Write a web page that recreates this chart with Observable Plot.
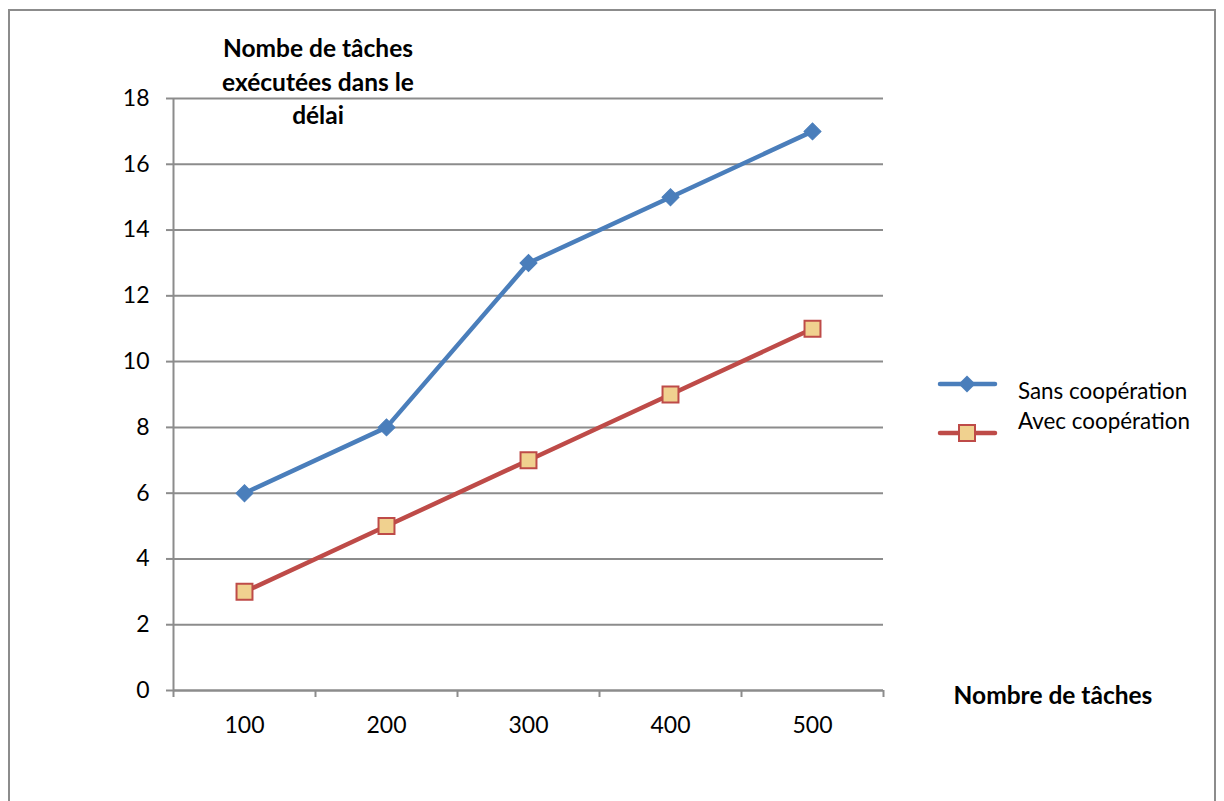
<!DOCTYPE html>
<html>
<head>
<meta charset="utf-8">
<script src="https://cdn.jsdelivr.net/npm/d3@7"></script>
<script src="https://cdn.jsdelivr.net/npm/@observablehq/plot@0.6"></script>
<style>
  html, body { margin: 0; padding: 0; background: #fff; }
  #wrap { position: relative; width: 1224px; height: 801px; overflow: hidden; font-family: Lato, "Open Sans", sans-serif; }
  #frame { position: absolute; left: 8px; top: 9px; width: 1208px; height: 820px; border: 2px solid #8c8c8c; box-sizing: border-box; }
  #chart { position: absolute; left: 0; top: 0; }
  .ytitle { position: absolute; left: 178px; top: 31px; width: 280px; text-align: center; font-weight: 700; font-size: 24.5px; line-height: 33.5px; color: #000; }
  .xtitle { position: absolute; left: 930px; top: 680px; width: 246px; text-align: center; font-weight: 700; font-size: 24.5px; color: #000; }
  #legend { position: absolute; left: 930px; top: 360px; }
</style>
</head>
<body>
<div id="wrap">
  <div id="frame"></div>
  <div id="chart"></div>
  <div class="ytitle">Nombe de tâches<br>exécutées dans le<br>délai</div>
  <div class="xtitle">Nombre de tâches</div>
  <svg id="legend" width="290" height="100"></svg>
</div>
<script>
// Number of tasks (x categories)
const tasks = [100, 200, 300, 400, 500];
// Tasks completed within the deadline
const sansCooperation = [6, 8, 13, 15, 17];
const avecCooperation = [3, 5, 7, 9, 11];
const seriesNames = ["Sans coopération", "Avec coopération"];
const yTicks = [0, 2, 4, 6, 8, 10, 12, 14, 16, 18];

const blue = "#4a7ebb";
const red = "#be4b48";
const tan = "#f0d18f";
const grey = "#8c8c8c";

const rows = tasks.flatMap((t, i) => [
  {tasks: t, value: sansCooperation[i], series: seriesNames[0]},
  {tasks: t, value: avecCooperation[i], series: seriesNames[1]}
]);
const sans = rows.filter(d => d.series === seriesNames[0]);
const avec = rows.filter(d => d.series === seriesNames[1]);

// Category boundaries: half a step either side of each category
const step = tasks[1] - tasks[0];
const bounds = [tasks[0] - step / 2, ...tasks.map(t => t + step / 2)];

const chart = Plot.plot({
  width: 1224,
  height: 801,
  marginLeft: 173,
  marginRight: 341,
  marginTop: 98,
  marginBottom: 111,
  style: {fontFamily: "Lato, 'Open Sans', sans-serif", background: "transparent"},
  x: {domain: [bounds[0], bounds[bounds.length - 1]]},
  y: {domain: [0, 18]},
  marks: [
    Plot.gridY(yTicks, {stroke: grey, strokeOpacity: 1, strokeWidth: 2}),
    Plot.ruleX([bounds[0]], {stroke: grey, strokeWidth: 2}),
    Plot.axisY({ticks: yTicks, tickSize: 7, tickPadding: 17, stroke: grey, strokeWidth: 2, fontSize: 23, fill: "#000", label: null}),
    Plot.ruleY([0], {stroke: grey, strokeWidth: 2, x1: bounds[0], x2: bounds[bounds.length - 1]}),
    Plot.axisX({ticks: bounds, tickSize: 7, tickFormat: () => "", stroke: grey, strokeWidth: 2, label: null}),
    Plot.axisX({ticks: tasks, tickSize: 0, tickPadding: 26, fontSize: 23, fill: "#000", label: null}),
    Plot.line(sans, {x: "tasks", y: "value", stroke: blue, strokeWidth: 4.5}),
    Plot.line(avec, {x: "tasks", y: "value", stroke: red, strokeWidth: 4.5}),
    Plot.dot(sans, {x: "tasks", y: "value", symbol: "square", r: 6.8, rotate: 45, fill: blue, stroke: blue, strokeWidth: 1}),
    Plot.dot(avec, {x: "tasks", y: "value", symbol: "square", r: 9, fill: tan, stroke: red, strokeWidth: 2})
  ]
});
document.getElementById("chart").appendChild(chart);

// Legend
const leg = d3.select("#legend");
const items = [
  {name: seriesNames[0], color: blue, y: 24, ty: 39, kind: "diamond"},
  {name: seriesNames[1], color: red, y: 73, ty: 69, kind: "square"}
];
items.forEach(it => {
  leg.append("line").attr("x1", 10).attr("x2", 65).attr("y1", it.y).attr("y2", it.y)
    .attr("stroke", it.color).attr("stroke-width", 4.5).attr("stroke-linecap", "round");
  if (it.kind === "diamond") {
    leg.append("rect").attr("x", -6).attr("y", -6).attr("width", 12).attr("height", 12)
      .attr("fill", blue).attr("transform", `translate(37,${it.y}) rotate(45)`);
  } else {
    leg.append("rect").attr("x", 29).attr("y", it.y - 8).attr("width", 16).attr("height", 16)
      .attr("fill", tan).attr("stroke", red).attr("stroke-width", 2);
  }
  leg.append("text").attr("x", 88).attr("y", it.ty).attr("font-size", 22.4)
    .attr("font-family", "Lato, 'Open Sans', sans-serif").attr("fill", "#000").text(it.name);
});
</script>
</body>
</html>
